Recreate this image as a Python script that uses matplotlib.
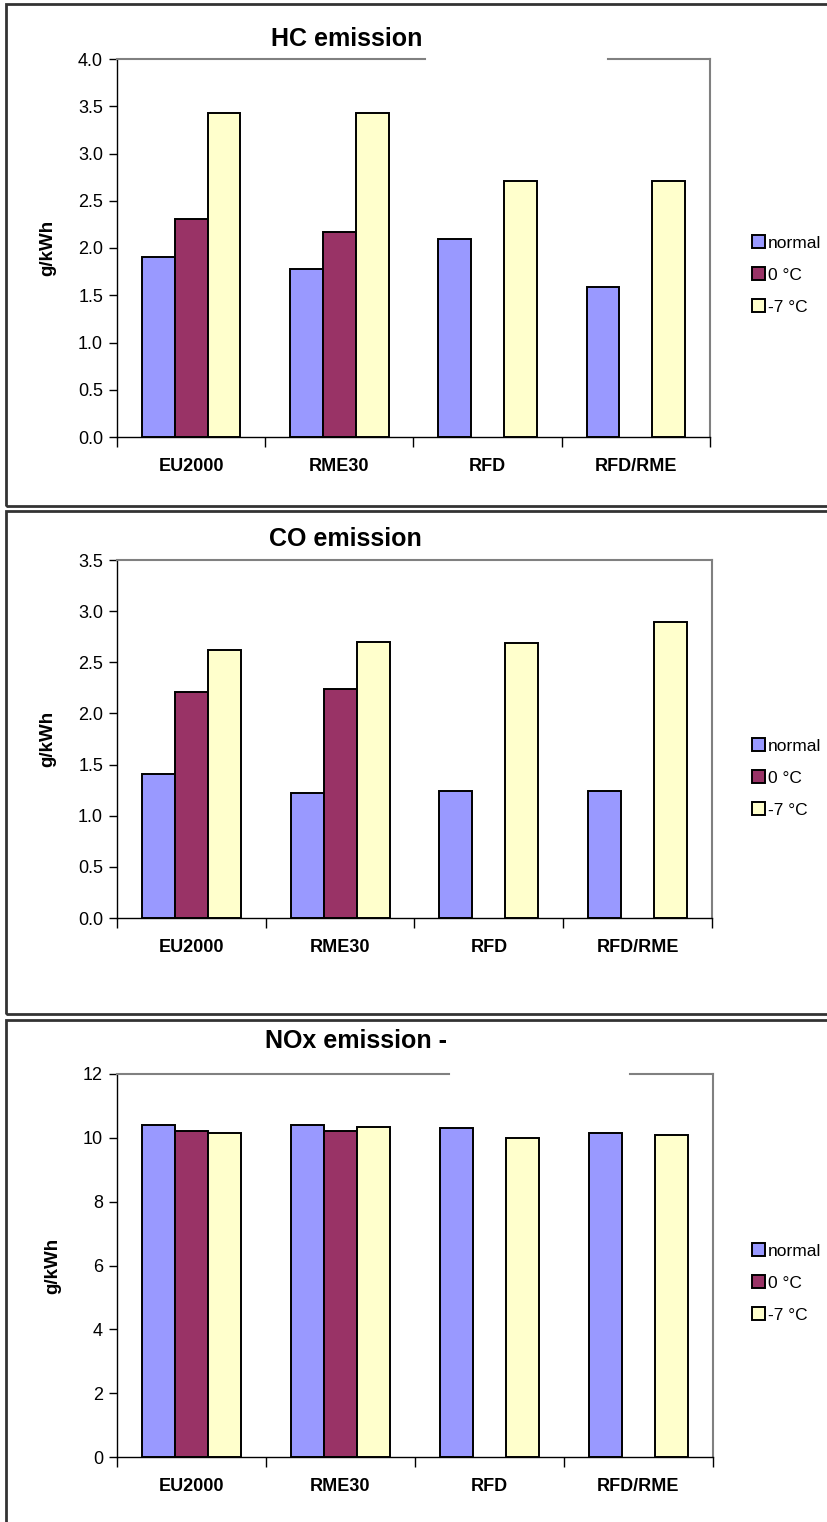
import numpy as np
import matplotlib
matplotlib.use("Agg")
import matplotlib.pyplot as plt
from matplotlib.patches import Rectangle
from matplotlib.lines import Line2D

plt.rcParams['font.family'] = ['Liberation Sans', 'DejaVu Sans']

categories = ["EU2000", "RME30", "RFD", "RFD/RME"]
series_names = ["normal", "0 °C", "-7 °C"]
colors = ["#9999FF", "#993366", "#FFFFCC"]

hc_normal = [1.90, 1.78, 2.10, 1.59]
hc_zero = [2.31, 2.17, np.nan, np.nan]
hc_minus7 = [3.43, 3.43, 2.71, 2.71]

co_normal = [1.41, 1.22, 1.24, 1.24]
co_zero = [2.21, 2.24, np.nan, np.nan]
co_minus7 = [2.62, 2.70, 2.69, 2.89]

nox_normal = [10.40, 10.40, 10.30, 10.15]
nox_zero = [10.20, 10.20, np.nan, np.nan]
nox_minus7 = [10.15, 10.35, 10.00, 10.10]

hc_ticks = [0.0, 0.5, 1.0, 1.5, 2.0, 2.5, 3.0, 3.5, 4.0]
co_ticks = [0.0, 0.5, 1.0, 1.5, 2.0, 2.5, 3.0, 3.5]
nox_ticks = [0, 2, 4, 6, 8, 10, 12]

W, H = 828, 1522
fig = plt.figure(figsize=(W / 100, H / 100), dpi=100)
fig.patch.set_facecolor("white")


def fx(x):
    return x / W


def fy(y):
    return 1 - y / H


def panel_border(top, bottom):
    fig.add_artist(Rectangle((fx(6), fy(bottom)), fx(900) - fx(6), (bottom - top) / H,
                             transform=fig.transFigure, fill=False,
                             ec="#333333", lw=2.0, zorder=0))


panel_border(4, 506)
panel_border(511, 1014)
panel_border(1020, 1560)


def make_panel(left, right, top, bottom, series, ticks, fmt, title, title_xy,
               gap, legend_y):
    ax = fig.add_axes([fx(left), fy(bottom), (right - left) / W, (bottom - top) / H])
    x = np.arange(len(categories))
    bw = 0.222
    for k, (vals, c, name) in enumerate(zip(series, colors, series_names)):
        ax.bar(x + (k - 1) * bw, vals, width=bw, color=c, edgecolor="black",
               linewidth=1.4, label=name, zorder=3)
    ax.set_xlim(-0.5, len(categories) - 0.5)
    ax.set_ylim(ticks[0], ticks[-1])
    ax.set_yticks(ticks)
    ax.set_yticklabels([fmt.format(t) for t in ticks], fontsize=13)
    ax.set_xticks(np.arange(len(categories) + 1) - 0.5)
    ax.set_xticklabels([])
    ax.set_xticks(x, minor=True)
    ax.set_xticklabels(categories, minor=True, fontsize=13, fontweight="bold")
    ax.tick_params(axis="x", which="major", direction="out", length=7, width=1,
                   color="black")
    ax.tick_params(axis="x", which="minor", length=0, pad=15)
    ax.tick_params(axis="y", direction="out", length=6, width=1, pad=4,
                   color="black")
    ax.set_ylabel("g/kWh", fontsize=13.5, fontweight="bold", labelpad=16)
    for s in ("left", "bottom"):
        ax.spines[s].set_color("black")
        ax.spines[s].set_linewidth(1.0)
    ax.spines["right"].set_color("#808080")
    ax.spines["right"].set_linewidth(1.5)
    ax.spines["top"].set_visible(False)
    if gap is None:
        segs = [(0, 1)]
    else:
        g0 = (gap[0] - left) / (right - left)
        g1 = (gap[1] - left) / (right - left)
        segs = [(0, g0), (g1, 1)]
    for a, b in segs:
        ax.add_line(Line2D([a, b], [1, 1], transform=ax.transAxes, color="#808080",
                           lw=1.5, clip_on=False, zorder=5))
    fig.text(fx(title_xy[0]), fy(title_xy[1]), title, ha="right", va="baseline",
             fontsize=18, fontweight="bold")
    ax.legend(loc="center left", bbox_to_anchor=(fx(752), fy(legend_y)),
              bbox_transform=fig.transFigure, frameon=False, fontsize=12.5,
              handlelength=0.75, handleheight=0.75, handletextpad=0.15,
              labelspacing=0.95, borderpad=0, borderaxespad=0)
    return ax


make_panel(117, 710, 59, 437, [hc_normal, hc_zero, hc_minus7], hc_ticks, "{:.1f}",
           "HC emission", (422, 46), (425, 608), 275)
make_panel(117, 712, 560, 918, [co_normal, co_zero, co_minus7], co_ticks, "{:.1f}",
           "CO emission", (422, 546), None, 778)
make_panel(117, 713, 1074, 1457, [nox_normal, nox_zero, nox_minus7], nox_ticks, "{:d}",
           "NOx emission -", (447, 1048), (449, 630), 1283)

fig.savefig("out.png", dpi=100, facecolor="white")
